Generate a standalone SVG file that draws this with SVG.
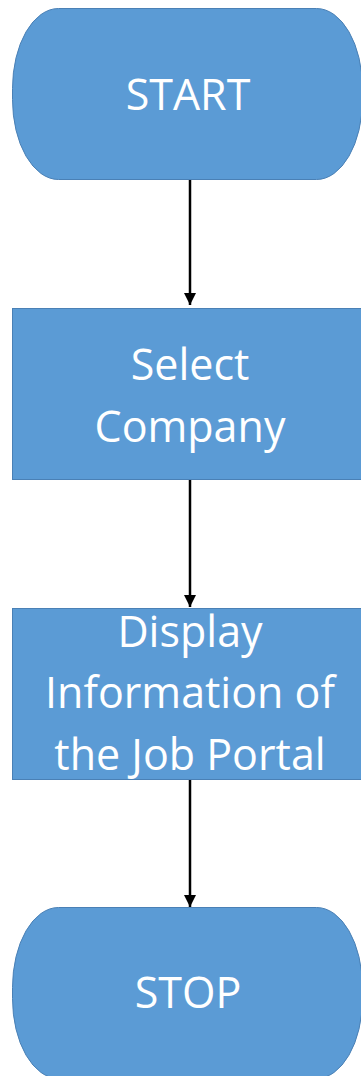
<svg xmlns="http://www.w3.org/2000/svg" width="361" height="1076" viewBox="0 0 361 1076">
<style>
.shape{fill:#5B9BD5;stroke:#4A80B5;stroke-width:1}
.lbl{fill:#FFFFFF;font-family:"Open Sans","Noto Sans",sans-serif;font-size:43px;text-anchor:middle}
.conn{stroke:#000;stroke-width:2.5;fill:none;marker-end:url(#arr)}
</style>
<defs>
<marker id="arr" viewBox="0 0 10 10" refX="10" refY="5" markerWidth="5" markerHeight="5" markerUnits="strokeWidth" orient="auto">
<path d="M0,0 L10,5 L0,10 Z" fill="#000"/>
</marker>
</defs>
<rect width="361" height="1076" fill="#FFFFFF"/>
<g id="connectors">
<line class="conn" x1="190" y1="180" x2="190" y2="305"/>
<line class="conn" x1="190" y1="480" x2="190" y2="607"/>
<line class="conn" x1="190" y1="780" x2="190" y2="907"/>
</g>
<g id="start">
<rect class="shape" x="12.5" y="8.5" width="350" height="171" rx="46" ry="80"/>
<text class="lbl" x="188" y="110">START</text>
</g>
<g id="select">
<rect class="shape" x="12.5" y="308.5" width="350" height="171"/>
<text class="lbl" x="190" y="380">Select</text>
<text class="lbl" x="190" y="442">Company</text>
</g>
<g id="display">
<rect class="shape" x="12.5" y="608.5" width="350" height="171"/>
<text class="lbl" x="190" y="647">Display</text>
<text class="lbl" x="190" y="708">Information of</text>
<text class="lbl" x="190" y="770">the Job Portal</text>
</g>
<g id="stop">
<rect class="shape" x="12.5" y="907.5" width="350" height="171" rx="46" ry="80"/>
<text class="lbl" x="188" y="1008">STOP</text>
</g>
</svg>
